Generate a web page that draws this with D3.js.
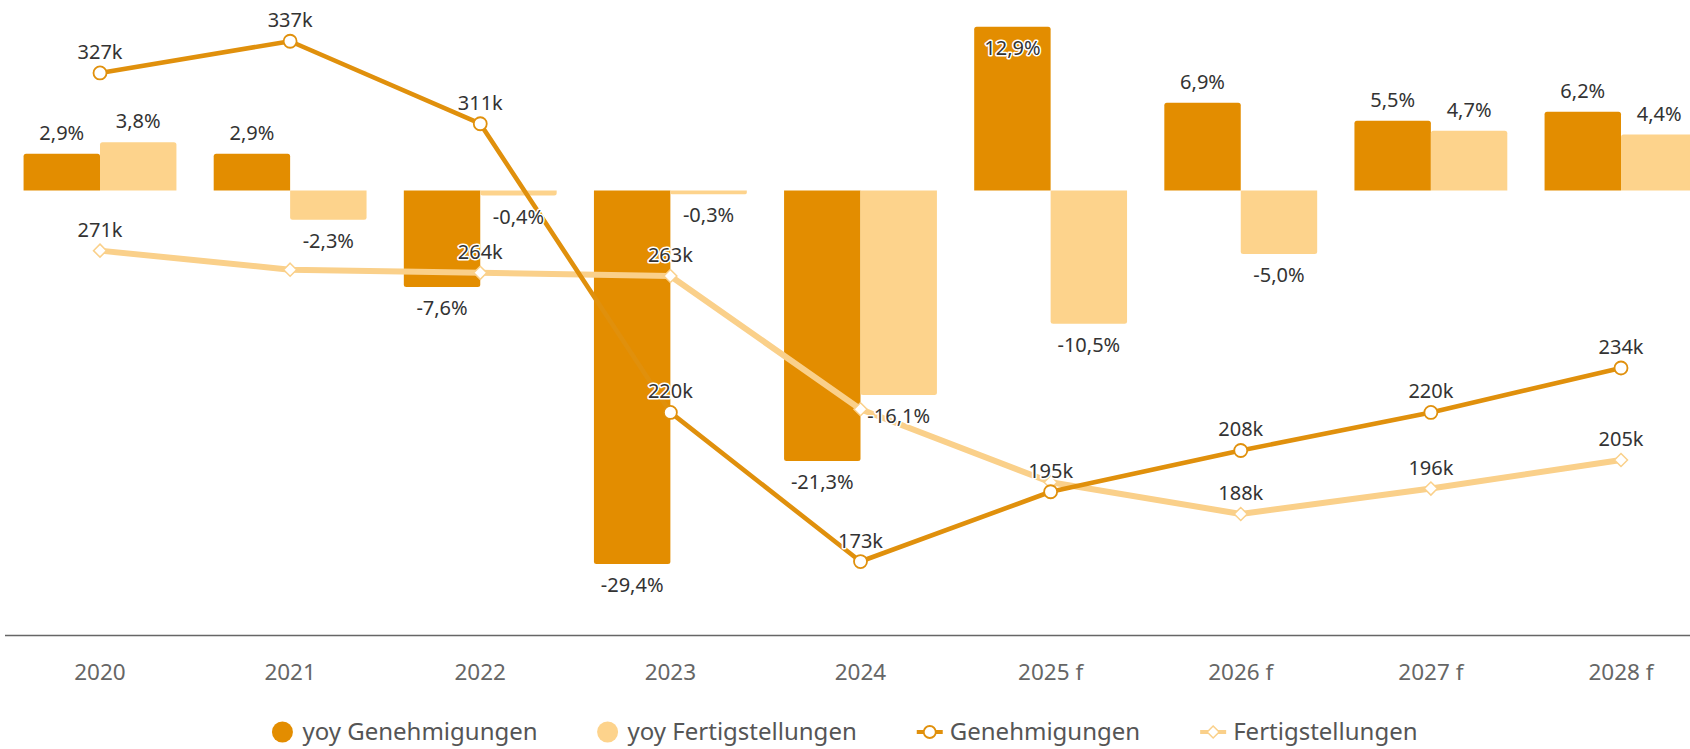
<!DOCTYPE html>
<html>
<head>
<meta charset="utf-8">
<script src="https://cdn.jsdelivr.net/npm/d3@7.9.0/dist/d3.min.js"></script>
<style>
  html, body { margin: 0; padding: 0; background: #fff; }
  svg { display: block; font-family: "Segoe UI", "Noto Sans", sans-serif; }
</style>
</head>
<body>
<svg id="chart" width="1690" height="749"></svg>
<script>
// ---- data ----
const years = ["2020", "2021", "2022", "2023", "2024", "2025 f", "2026 f", "2027 f", "2028 f"];
const yoyGenehmigungen = [2.9, 2.9, -7.6, -29.4, -21.3, 12.9, 6.9, 5.5, 6.2];
const yoyFertigstellungen = [3.8, -2.3, -0.4, -0.3, -16.1, -10.5, -5.0, 4.7, 4.4];
const genehmigungen = [327, 337, 311, 220, 173, 195, 208, 220, 234];      // in k
const fertigstellungen = [271, 265, 264, 263, 221, 198, 188, 196, 205];  // in k
// labels the original hides because they collide
const fertLabelShown = [true, false, true, true, false, false, true, true, true];

const seriesNames = ["yoy Genehmigungen", "yoy Fertigstellungen", "Genehmigungen", "Fertigstellungen"];

// ---- colours ----
const cGen = "#E38D00";
const cFert = "#FDD38C";
const cGenLine = "#E0900C";
const cFertLine = "#FAD08A";
const cLabel = "#333";

const W = 1690, H = 749;
const svg = d3.select("#chart");

const x = d3.scalePoint().domain(years).range([100, 1621]);
const barW = x.step() * 0.402;

// bars and lines share the plot height, with separate domains
const yBar = d3.scaleLinear().domain([-35, 15]).range([635, 0]);
const yLine = d3.scaleLinear().domain([150, 350]).range([634.5, 0]);

const fmtPct = v => d3.format(".1f")(v).replace("\u2212", "-").replace(".", ",") + "%";

// bar path with rounded outer end only
function barPath(x0, w, v) {
  const y0 = yBar(0), y1 = yBar(v);
  const r = Math.min(2.5, Math.abs(y1 - y0) / 2);
  if (v >= 0) {
    return `M${x0},${y0}V${y1 + r}Q${x0},${y1} ${x0 + r},${y1}H${x0 + w - r}Q${x0 + w},${y1} ${x0 + w},${y1 + r}V${y0}Z`;
  }
  return `M${x0},${y0}V${y1 - r}Q${x0},${y1} ${x0 + r},${y1}H${x0 + w - r}Q${x0 + w},${y1} ${x0 + w},${y1 - r}V${y0}Z`;
}

const bars = [];
years.forEach((yr, i) => {
  bars.push({ yr, v: yoyGenehmigungen[i], x0: x(yr) - barW, color: cGen });
  bars.push({ yr, v: yoyFertigstellungen[i], x0: x(yr), color: cFert });
});

svg.append("g")
  .selectAll("path")
  .data(bars)
  .join("path")
  .attr("d", d => barPath(d.x0, barW, d.v))
  .attr("fill", d => d.color);

// axis line + labels
svg.append("line")
  .attr("x1", 5).attr("x2", W)
  .attr("y1", 635.5).attr("y2", 635.5)
  .attr("stroke", "#666").attr("stroke-width", 1.3);

svg.append("g")
  .selectAll("text")
  .data(years)
  .join("text")
  .attr("x", d => x(d))
  .attr("y", 680)
  .attr("text-anchor", "middle")
  .attr("fill", "#666")
  .style("font-size", "22.5px")
  .text(d => d);

// lines
const genPts = years.map((yr, i) => ({ yr, v: genehmigungen[i], show: true }));
const fertPts = years.map((yr, i) => ({ yr, v: fertigstellungen[i], show: fertLabelShown[i] }));

const line = d3.line().x(d => x(d.yr)).y(d => yLine(d.v));

svg.append("path")
  .attr("d", line(fertPts))
  .attr("fill", "none")
  .attr("stroke", cFertLine)
  .attr("stroke-width", 6)
  .attr("stroke-linejoin", "round");

svg.append("path")
  .attr("d", line(genPts))
  .attr("fill", "none")
  .attr("stroke", cGenLine)
  .attr("stroke-width", 4.6)
  .attr("stroke-linejoin", "round");

// markers
svg.append("g")
  .selectAll("path")
  .data(fertPts)
  .join("path")
  .attr("transform", d => `translate(${x(d.yr)},${yLine(d.v)})`)
  .attr("d", "M0,-6.5L6.5,0L0,6.5L-6.5,0Z")
  .attr("fill", "#fff")
  .attr("stroke", cFertLine)
  .attr("stroke-width", 1.5);

svg.append("g")
  .selectAll("circle")
  .data(genPts)
  .join("circle")
  .attr("cx", d => x(d.yr))
  .attr("cy", d => yLine(d.v))
  .attr("r", 6.5)
  .attr("fill", "#fff")
  .attr("stroke", cGenLine)
  .attr("stroke-width", 1.8);

// labels
const labels = [];
bars.forEach(d => {
  let y;
  if (d.v >= 0) {
    y = yBar(d.v) - 14;
    if (y < 22) y = yBar(d.v) + 28;   // no room above: inside the bar
  } else {
    y = yBar(d.v) + 28;
  }
  labels.push({ x: d.x0 + barW / 2, y, text: fmtPct(d.v) });
});
genPts.concat(fertPts).forEach(d => {
  if (!d.show) return;
  labels.push({ x: x(d.yr), y: yLine(d.v) - 14, text: d.v + "k" });
});

svg.append("g")
  .selectAll("text")
  .data(labels)
  .join("text")
  .attr("x", d => d.x)
  .attr("y", d => d.y)
  .attr("text-anchor", "middle")
  .attr("fill", cLabel)
  .attr("stroke", "#fff")
  .attr("stroke-width", 3)
  .attr("stroke-linejoin", "round")
  .attr("paint-order", "stroke")
  .style("font-size", "20px")
  .text(d => d.text);

// legend
const legend = svg.append("g");
let cx = 0;
const legY = 732;
seriesNames.forEach((name, i) => {
  const g = legend.append("g").attr("transform", `translate(${cx},0)`);
  let w;
  if (i < 2) {
    g.append("circle").attr("cx", 10).attr("cy", legY).attr("r", 10.5)
      .attr("fill", i === 0 ? cGen : cFert);
    w = 30;
  } else {
    const col = i === 2 ? cGenLine : cFertLine;
    g.append("line").attr("x1", 0).attr("x2", 26).attr("y1", legY).attr("y2", legY)
      .attr("stroke", col).attr("stroke-width", 4);
    if (i === 2) {
      g.append("circle").attr("cx", 13).attr("cy", legY).attr("r", 6)
        .attr("fill", "#fff").attr("stroke", col).attr("stroke-width", 1.8);
    } else {
      g.append("path").attr("transform", `translate(13,${legY})`)
        .attr("d", "M0,-6L6,0L0,6L-6,0Z")
        .attr("fill", "#fff").attr("stroke", col).attr("stroke-width", 1.5);
    }
    w = 33;
  }
  const t = g.append("text")
    .attr("x", w).attr("y", legY + 8)
    .attr("fill", "#555")
    .style("font-size", "24px")
    .text(name);
  cx += w + t.node().getComputedTextLength() + 60;
});
const legW = cx - 60;
legend.attr("transform", `translate(${845 - legW / 2},0)`);
</script>
</body>
</html>
